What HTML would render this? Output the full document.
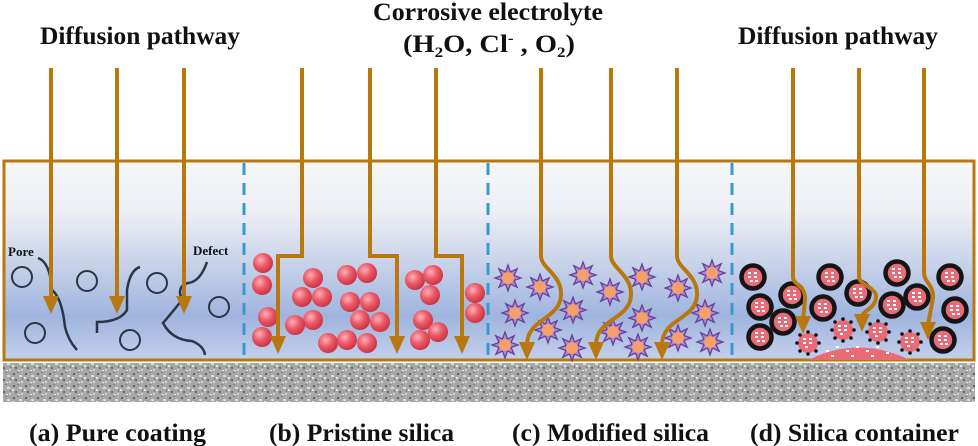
<!DOCTYPE html>
<html><head><meta charset="utf-8"><style>html,body{margin:0;padding:0;background:#fff}svg{display:block}</style></head>
<body>
<svg width="978" height="446" viewBox="0 0 978 446" xmlns="http://www.w3.org/2000/svg">
<defs>
<linearGradient id="bg" x1="0" y1="0" x2="0" y2="1">
<stop offset="0" stop-color="#f6f6f8"/><stop offset="0.25" stop-color="#eef0f5"/><stop offset="0.55" stop-color="#c3cfe8"/><stop offset="0.78" stop-color="#9fb4de"/><stop offset="1" stop-color="#c3d0ea"/>
</linearGradient>
<radialGradient id="sph" cx="0.38" cy="0.35" r="0.7"><stop offset="0" stop-color="#ffb0b8"/><stop offset="0.5" stop-color="#ea5866"/><stop offset="1" stop-color="#c8303f"/></radialGradient>
<pattern id="noise" width="12" height="12" patternUnits="userSpaceOnUse">
<rect width="12" height="12" fill="#a8a8a8"/><rect x="1" y="1" width="2" height="2" fill="#606060"/><rect x="7" y="3" width="3" height="2" fill="#dcdcdc"/><rect x="3" y="7" width="2" height="2" fill="#6a6a6a"/><rect x="9" y="9" width="2" height="2" fill="#d0d0d0"/><rect x="5" y="0" width="2" height="1" fill="#808080"/><rect x="0" y="5" width="2" height="2" fill="#e4e4e4"/><rect x="10" y="6" width="1" height="2" fill="#777"/><rect x="6" y="10" width="2" height="1" fill="#e8e8e8"/>
</pattern>
<g id="star"><polygon points="0,-13 2.5,-6 9.2,-9.2 6,-2.5 13,0 6,2.5 9.2,9.2 2.5,6 0,13 -2.5,6 -9.2,9.2 -6,2.5 -13,0 -6,-2.5 -9.2,-9.2 -2.5,-6" fill="#a98ad0" stroke="#6a3f9a" stroke-width="1.3"/><circle r="6" fill="#f5a06a"/></g>
<g id="sp"><circle r="10" fill="url(#sph)"/></g>
<g id="cont"><circle r="11.5" fill="#ea6b78" stroke="#151515" stroke-width="4.5"/><rect x="-5" y="-5" width="3" height="2" fill="#fff"/><rect x="1" y="-5" width="3" height="2" fill="#fff"/><rect x="-5" y="-1" width="3" height="2" fill="#fff"/><rect x="1" y="-1" width="3" height="2" fill="#fff"/><rect x="-3" y="3" width="3" height="2" fill="#fff"/><rect x="2" y="3" width="3" height="2" fill="#fff"/></g>
<g id="rel"><circle r="10" fill="#ea6b78"/><rect x="-5" y="-5" width="3" height="2" fill="#fff"/><rect x="1" y="-5" width="3" height="2" fill="#fff"/><rect x="-5" y="-1" width="3" height="2" fill="#fff"/><rect x="1" y="-1" width="3" height="2" fill="#fff"/><rect x="-3" y="3" width="3" height="2" fill="#fff"/><circle cx="0" cy="-11" r="1.8" fill="#111"/><circle cx="8" cy="-8" r="1.8" fill="#111"/><circle cx="11" cy="0" r="1.8" fill="#111"/><circle cx="8" cy="8" r="1.8" fill="#111"/><circle cx="-8" cy="8" r="1.8" fill="#111"/><circle cx="-11" cy="0" r="1.8" fill="#111"/><circle cx="-8" cy="-8" r="1.8" fill="#111"/><circle cx="0" cy="11" r="1.8" fill="#111"/></g>
</defs>

<rect x="3" y="160" width="972" height="200" fill="url(#bg)"/>
<rect x="3" y="363" width="972" height="39" fill="url(#noise)"/>
<g stroke="#3a9ad0" stroke-width="3" stroke-dasharray="12,8">
<line x1="244" y1="163" x2="244" y2="360"/><line x1="488" y1="163" x2="488" y2="360"/><line x1="732" y1="163" x2="732" y2="360"/>
</g>
<rect x="4" y="161" width="970" height="199" fill="none" stroke="#b8780f" stroke-width="3"/>

<g font-family="'Liberation Serif',serif" font-weight="bold" fill="#111">
<text x="40" y="44" font-size="25" textLength="200" lengthAdjust="spacingAndGlyphs">Diffusion pathway</text>
<text x="738" y="44" font-size="25" textLength="200" lengthAdjust="spacingAndGlyphs">Diffusion pathway</text>
<text x="373" y="20" font-size="25" textLength="230" lengthAdjust="spacingAndGlyphs">Corrosive electrolyte</text>
<text x="403" y="52" font-size="25" textLength="172" lengthAdjust="spacingAndGlyphs">(H<tspan font-size="15" dy="5">2</tspan><tspan dy="-5">O, Cl</tspan><tspan font-size="15" dy="-9">-</tspan><tspan dy="9"> , O</tspan><tspan font-size="15" dy="5">2</tspan><tspan dy="-5">)</tspan></text>
<text x="29" y="441" font-size="25" textLength="177" lengthAdjust="spacingAndGlyphs">(a) Pure coating</text>
<text x="269" y="441" font-size="25" textLength="185" lengthAdjust="spacingAndGlyphs">(b) Pristine silica</text>
<text x="512" y="441" font-size="25" textLength="197" lengthAdjust="spacingAndGlyphs">(c) Modified silica</text>
<text x="750" y="441" font-size="25" textLength="209" lengthAdjust="spacingAndGlyphs">(d) Silica container</text>
<text x="8" y="256" font-size="13">Pore</text>
<text x="193" y="255" font-size="13">Defect</text>
</g>

<!-- panel a -->
<g fill="none" stroke="#2b3545" stroke-width="2">
<circle cx="22" cy="277" r="10"/><circle cx="87" cy="281" r="10"/><circle cx="157" cy="283" r="10"/><circle cx="219" cy="307" r="10"/><circle cx="35" cy="333" r="10"/><circle cx="130" cy="340" r="10"/>
<path d="M38,258 Q50,262 52,290 Q62,298 65,327 Q68,340 77,350" stroke-width="2.5"/>
<path d="M97,333 L97,322 Q120,322 127,310 L127,290 Q130,270 140,267" stroke-width="2.5"/>
<path d="M207,262 Q200,282 188,283 Q176,286 182,300 Q170,315 163,323 Q172,340 192,341 Q204,346 205,355" stroke-width="2.5"/>
</g>

<!-- panel b -->
<g>
<use href="#sp" x="263" y="263"/><use href="#sp" x="262" y="285"/><use href="#sp" x="268" y="317"/><use href="#sp" x="262" y="337"/>
<use href="#sp" x="313" y="278"/><use href="#sp" x="302" y="297"/><use href="#sp" x="322" y="297"/><use href="#sp" x="313" y="320"/><use href="#sp" x="295" y="325"/>
<use href="#sp" x="347" y="275"/><use href="#sp" x="367" y="273"/><use href="#sp" x="350" y="302"/><use href="#sp" x="370" y="302"/><use href="#sp" x="360" y="320"/><use href="#sp" x="380" y="322"/>
<use href="#sp" x="328" y="343"/><use href="#sp" x="347" y="340"/><use href="#sp" x="367" y="343"/>
<use href="#sp" x="415" y="280"/><use href="#sp" x="433" y="275"/><use href="#sp" x="430" y="295"/><use href="#sp" x="423" y="320"/><use href="#sp" x="438" y="332"/><use href="#sp" x="420" y="340"/>
<use href="#sp" x="475" y="293"/><use href="#sp" x="475" y="313"/>
</g>

<!-- panel c -->
<g>
<use href="#star" x="508" y="278"/><use href="#star" x="540" y="287"/><use href="#star" x="515" y="313"/><use href="#star" x="505" y="345"/><use href="#star" x="548" y="330"/><use href="#star" x="572" y="348"/><use href="#star" x="573" y="310"/><use href="#star" x="583" y="275"/><use href="#star" x="610" y="292"/><use href="#star" x="613" y="332"/><use href="#star" x="642" y="277"/><use href="#star" x="642" y="318"/><use href="#star" x="638" y="347"/><use href="#star" x="678" y="288"/><use href="#star" x="678" y="338"/><use href="#star" x="712" y="273"/><use href="#star" x="705" y="313"/><use href="#star" x="710" y="342"/>
</g>

<!-- panel d -->
<path d="M808,360 Q859,335 910,360 Z" fill="#ea6b78"/>
<g fill="#fff"><rect x="826" y="350" width="3" height="2"/><rect x="836" y="346" width="3" height="2"/><rect x="846" y="350" width="3" height="2"/><rect x="856" y="346" width="3" height="2"/><rect x="866" y="350" width="3" height="2"/><rect x="876" y="346" width="3" height="2"/><rect x="886" y="352" width="3" height="2"/><rect x="831" y="355" width="3" height="2"/><rect x="851" y="355" width="3" height="2"/><rect x="871" y="355" width="3" height="2"/></g>
<g>
<use href="#cont" x="753" y="277"/><use href="#cont" x="760" y="307"/><use href="#cont" x="760" y="337"/><use href="#cont" x="792" y="295"/><use href="#cont" x="783" y="322"/><use href="#cont" x="823" y="308"/><use href="#cont" x="830" y="277"/><use href="#cont" x="858" y="293"/><use href="#cont" x="897" y="273"/><use href="#cont" x="892" y="305"/><use href="#cont" x="917" y="297"/><use href="#cont" x="950" y="277"/><use href="#cont" x="955" y="310"/><use href="#cont" x="943" y="340"/>
<use href="#rel" x="808" y="343"/><use href="#rel" x="843" y="330"/><use href="#rel" x="878" y="332"/><use href="#rel" x="910" y="342"/>
</g>

<!-- arrows -->
<g fill="none" stroke="#b8780f" stroke-width="4">
<path d="M51,68 V298"/><path d="M117,68 V298"/><path d="M184,68 V298"/>
<path d="M302,68 V256 H278 V338"/><path d="M370,68 V256 H397 V338"/><path d="M436,68 V256 H462 V338"/>
<path d="M541,68 V256 C541,268 562,275 561,295 C560,320 527,318 527,345"/>
<path d="M611,68 V256 C611,268 632,275 631,295 C630,320 596,318 596,345"/>
<path d="M677,68 V256 C677,268 698,275 697,295 C696,320 662,318 662,345"/>
<path d="M793,68 V277 C793,285 806,285 805,300 L803,320"/>
<path d="M859,68 V277 C859,285 878,288 876,298 C874,310 862,310 862,318"/>
<path d="M924,68 V273 C924,282 934,285 933,298 L928,325"/>
</g>
<g fill="#b8780f">
<polygon points="43,296 59,296 51,314"/><polygon points="109,296 125,296 117,314"/><polygon points="176,296 192,296 184,314"/>
<polygon points="270,336 286,336 278,354"/><polygon points="389,336 405,336 397,354"/><polygon points="454,336 470,336 462,354"/>
<polygon points="519,342 535,342 527,360"/><polygon points="588,342 604,342 596,360"/><polygon points="654,342 670,342 662,360"/>
<polygon points="795,316 811,316 803,334"/><polygon points="854,314 870,314 862,332"/><polygon points="920,322 936,322 928,340"/>
</g>
</svg>
</body></html>
